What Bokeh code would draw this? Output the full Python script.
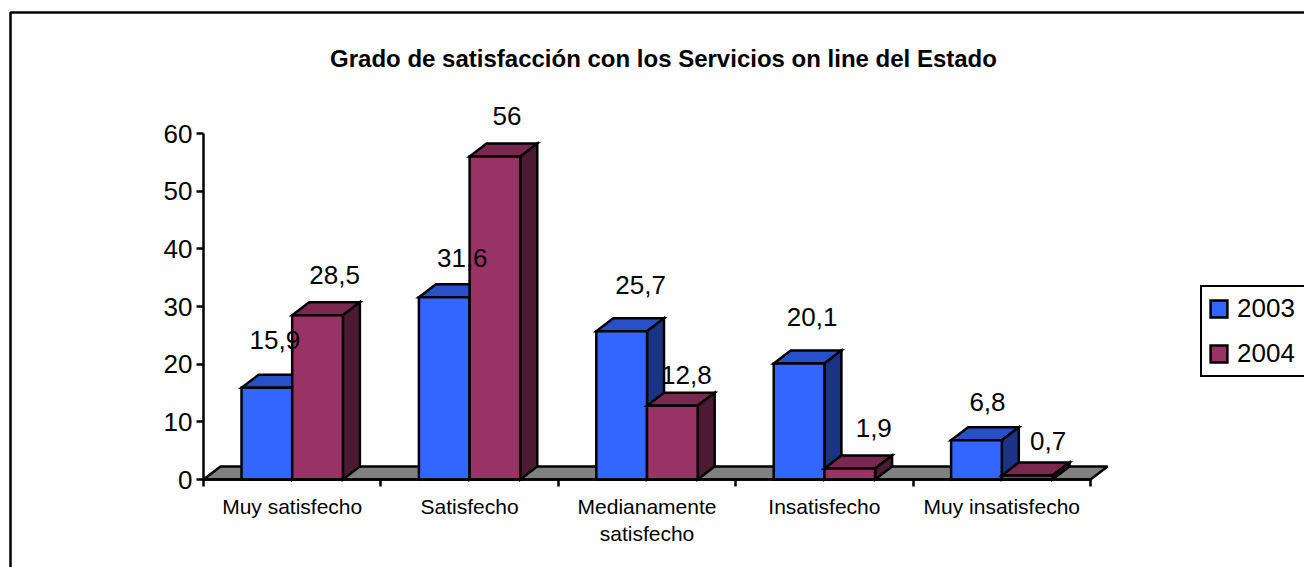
from bokeh.plotting import figure
from bokeh.embed import file_html
from bokeh.resources import INLINE
from bokeh.models import FixedTicker, BoxAnnotation, Label, Legend, LegendItem, ColumnDataSource, Range1d
from bokeh.core.properties import value

title_text = "Grado de satisfacción con los Servicios on line del Estado"
categories = ["Muy satisfecho", "Satisfecho", "Medianamente\nsatisfecho", "Insatisfecho", "Muy insatisfecho"]
series_names = ["2003", "2004"]
values_2003 = [15.9, 31.6, 25.7, 20.1, 6.8]
values_2004 = [28.5, 56, 12.8, 1.9, 0.7]
labels_2003 = ["15,9", "31,6", "25,7", "20,1", "6,8"]
labels_2004 = ["28,5", "56", "12,8", "1,9", "0,7"]
y_ticks = [0, 10, 20, 30, 40, 50, 60]

# hand placement of the value labels, px relative to bar top-centre
nudge_x_2003 = [8, 18, 19, 13, 11]
nudge_y_2003 = [48, 39, 46, 47, 38]
nudge_x_2004 = [17, 12, 14, 24, 21]
nudge_y_2004 = [40, 41, 31, 41, 34]

colors_2003 = ("#3366FF", "#2850C8", "#1A3385")
colors_2004 = ("#993366", "#7A2850", "#4C1A33")

FONT = "Liberation Sans"
W, H = 1304, 567
FRAME_LEFT, FRAME_TOP = 5, 7          # frame nearly fills the page
AXIS_X, AXIS_Y = 203, 479             # where the value axis and the category axis sit
PX_PER_CAT = 177.4
PX_PER_UNIT = 346 / 60
DX = 17 / PX_PER_CAT
DY = 13 / PX_PER_UNIT
BAR = 1 / 3.5
GAP = 0.75 * BAR
LW = 2.5


def dx(px):
    return (px - AXIS_X) / PX_PER_CAT


def dy(px):
    return (AXIS_Y - px) / PX_PER_UNIT


p = figure(width=W, height=H, output_backend="svg", toolbar_location=None,
           x_range=Range1d(dx(FRAME_LEFT), dx(W)),
           y_range=Range1d(dy(H), dy(FRAME_TOP)),
           min_border_left=FRAME_LEFT, min_border_right=0, min_border_top=FRAME_TOP, min_border_bottom=0,
           outline_line_color=None, background_fill_color="white")
p.grid.visible = False

# outer chart-area border; its right and bottom edges fall outside the page
p.add_layout(BoxAnnotation(left=dx(10), right=dx(W + 20), top=dy(12), bottom=dy(H + 20),
                           fill_color=None, fill_alpha=0, line_color="black", line_width=LW, line_alpha=1))

p.add_layout(Label(x=dx(663), y=dy(58), text=title_text, text_align="center", text_baseline="middle",
                   text_font=FONT, text_font_style="bold", text_font_size="24px", text_color="black"))

# axes
yax = p.yaxis[0]
yax.fixed_location = 0
yax.ticker = FixedTicker(ticks=y_ticks)
yax.bounds = (0, 60)
yax.axis_line_color = "black"
yax.axis_line_width = LW
yax.major_tick_line_color = "black"
yax.major_tick_line_width = LW
yax.major_tick_in = 0
yax.major_tick_out = 7
yax.minor_tick_line_color = None
yax.major_label_text_font = FONT
yax.major_label_text_font_size = "26px"
yax.major_label_text_color = "black"
yax.major_label_standoff = 4

xax = p.xaxis[0]
n = len(categories)
xax.fixed_location = 0
xax.ticker = FixedTicker(ticks=[i + 0.5 for i in range(n)], minor_ticks=list(range(n + 1)))
xax.major_label_overrides = {i + 0.5: c for i, c in enumerate(categories)}
xax.bounds = (0, n)
xax.axis_line_color = "black"
xax.axis_line_width = LW
xax.major_tick_line_color = None
xax.major_tick_in = 0
xax.major_tick_out = 0
xax.minor_tick_line_color = "black"
xax.minor_tick_line_width = LW
xax.minor_tick_in = 0
xax.minor_tick_out = 7
xax.major_label_text_font = FONT
xax.major_label_text_font_size = "21px"
xax.major_label_text_color = "black"
xax.major_label_standoff = 8
xax.major_label_orientation = "horizontal"

# floor
p.patch([0, DX, n + DX, n], [0, DY, DY, 0], fill_color="#808080", line_color="black", line_width=LW)


def draw_series(vals, first_offset, colors):
    lefts = [i + GAP + first_offset * BAR for i in range(n)]
    rights = [l + BAR for l in lefts]
    top_x = [[l, l + DX, r + DX, r] for l, r in zip(lefts, rights)]
    top_y = [[v, v + DY, v + DY, v] for v in vals]
    side_x = [[r, r + DX, r + DX, r] for r in rights]
    side_y = [[0, DY, v + DY, v] for v in vals]
    front_x = [[l, r, r, l] for l, r in zip(lefts, rights)]
    front_y = [[0, 0, v, v] for v in vals]
    style = dict(line_color="black", line_width=LW, line_join="miter")
    p.patches(top_x, top_y, fill_color=colors[1], **style)
    p.patches(side_x, side_y, fill_color=colors[2], **style)
    return p.patches(front_x, front_y, fill_color=colors[0], **style), lefts


r03, l03 = draw_series(values_2003, 0, colors_2003)
r04, l04 = draw_series(values_2004, 1, colors_2004)

for vals, labs, lefts, nx, ny in [(values_2003, labels_2003, l03, nudge_x_2003, nudge_y_2003),
                                  (values_2004, labels_2004, l04, nudge_x_2004, nudge_y_2004)]:
    src = ColumnDataSource(dict(x=[l + BAR / 2 for l in lefts], y=vals, t=labs, xo=nx, yo=[-d for d in ny]))
    p.text("x", "y", text="t", x_offset="xo", y_offset="yo", source=src, text_align="center",
           text_baseline="middle", text_font=value(FONT), text_font_size="26px", text_color="black")

legend = Legend(items=[LegendItem(label=series_names[0], renderers=[r03], index=0),
                       LegendItem(label=series_names[1], renderers=[r04], index=0)],
                location=(1195, 190), orientation="vertical",
                border_line_color="black", border_line_width=LW, border_line_alpha=1,
                background_fill_color="white", background_fill_alpha=1,
                label_text_font=FONT, label_text_font_size="26px", label_text_color="black",
                glyph_width=21, glyph_height=21, label_standoff=8, label_width=62,
                spacing=14, padding=6, margin=0)
p.add_layout(legend)

open("out.html", "w").write(file_html(p, INLINE))
